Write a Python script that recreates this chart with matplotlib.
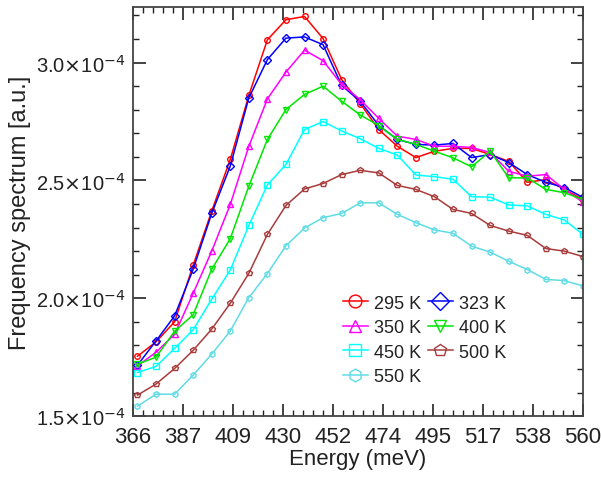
import matplotlib
matplotlib.use('Agg')
import matplotlib.pyplot as plt
from matplotlib.ticker import AutoMinorLocator
import numpy as np

plt.rcParams['font.family'] = ['Liberation Sans', 'DejaVu Sans']

# energies of the sampled points (meV)
energy = np.arange(368, 561, 8)

# frequency spectrum, in units of 1e-4 a.u.
s295 = [1.754, 1.815, 1.900, 2.140, 2.370, 2.589, 2.861, 3.097, 3.182, 3.196, 3.102, 2.928,
        2.826, 2.716, 2.645, 2.597, 2.624, 2.636, 2.636, 2.610, 2.581, 2.492, 2.504, 2.462, 2.419]
s323 = [1.716, 1.819, 1.925, 2.123, 2.360, 2.561, 2.850, 3.013, 3.104, 3.109, 3.076, 2.903,
        2.836, 2.733, 2.674, 2.653, 2.650, 2.657, 2.597, 2.610, 2.576, 2.525, 2.492, 2.470, 2.428]
s350 = [1.713, 1.771, 1.847, 2.021, 2.200, 2.398, 2.645, 2.846, 2.960, 3.053, 3.008, 2.907,
        2.843, 2.763, 2.688, 2.674, 2.645, 2.645, 2.640, 2.619, 2.539, 2.518, 2.525, 2.462, 2.407]
s400 = [1.720, 1.750, 1.860, 1.930, 2.123, 2.253, 2.476, 2.674, 2.801, 2.865, 2.900, 2.836,
        2.778, 2.733, 2.674, 2.653, 2.624, 2.596, 2.558, 2.624, 2.511, 2.511, 2.462, 2.448, 2.419]
s450 = [1.685, 1.711, 1.787, 1.866, 1.996, 2.120, 2.309, 2.481, 2.568, 2.716, 2.750, 2.710,
        2.677, 2.636, 2.608, 2.523, 2.516, 2.505, 2.431, 2.429, 2.396, 2.392, 2.356, 2.332, 2.271]
s500 = [1.589, 1.636, 1.702, 1.779, 1.869, 1.979, 2.106, 2.271, 2.394, 2.464, 2.487, 2.525,
        2.543, 2.532, 2.479, 2.462, 2.431, 2.377, 2.360, 2.309, 2.285, 2.267, 2.211, 2.200, 2.177]
s550 = [1.542, 1.593, 1.593, 1.674, 1.763, 1.861, 2.003, 2.105, 2.223, 2.298, 2.342, 2.360,
        2.405, 2.405, 2.356, 2.321, 2.290, 2.276, 2.221, 2.196, 2.157, 2.122, 2.080, 2.075, 2.052]

labels = ['295 K', '323 K', '350 K', '400 K', '450 K', '500 K', '550 K']
series = [s295, s323, s350, s400, s450, s500, s550]
colors = ['#ff0000', '#0000ff', '#ff00ff', '#00e600', '#00ffff', '#a83c3c', '#5fdce6']
markers = ['o', 'D', '^', 'v', 's', 'p', 'h']

xtick_labels = ['366', '387', '409', '430', '452', '474', '495', '517', '538', '560']
ytick_vals = [1.5, 2.0, 2.5, 3.0]

fig = plt.figure(figsize=(6.01, 4.85), dpi=100)
ax = fig.add_axes([0.221, 0.140, 0.749, 0.843])

lines = {}
for lab, s, c, m in zip(labels, series, colors, markers):
    ln, = ax.plot(energy, np.array(s) * 1e-4, color=c, marker=m, ms=4, mfc='none',
                  mew=1.0, lw=1.1, label=lab)
    lines[lab] = ln

ax.set_xlim(366, 560)
ax.set_ylim(1.5e-4, 3.235e-4)
ax.set_xticks(np.linspace(366, 560, 10))
ax.set_xticklabels(xtick_labels)
ax.set_yticks([v * 1e-4 for v in ytick_vals])
ax.set_yticklabels([r'%.1f$\times$10$^{-4}$' % v for v in ytick_vals])
ax.xaxis.set_minor_locator(AutoMinorLocator(5))
ax.yaxis.set_minor_locator(AutoMinorLocator(5))
ax.tick_params(which='both', direction='in', top=True, right=True, colors='#222222')
ax.tick_params(axis='x', which='major', pad=7, labelsize=16)
ax.tick_params(axis='y', which='major', pad=5, labelsize=14.5)
ax.tick_params(which='major', length=9, width=1.2)
ax.tick_params(which='minor', length=4, width=1.0)
for sp in ax.spines.values():
    sp.set_color('#444444')
    sp.set_linewidth(1.3)

ax.set_xlabel('Energy (meV)', fontsize=16, color='#222222', labelpad=1)
ax.set_ylabel('Frequency spectrum [a.u.]', fontsize=17, color='#222222', labelpad=4)

# legend order so that ncol=2 fills rows like the reference
order = ['295 K', '350 K', '450 K', '550 K', '323 K', '400 K', '500 K']
leg = ax.legend([lines[k] for k in order], order, ncol=2, frameon=False,
                loc='upper left', bbox_to_anchor=(0.45, 0.315), fontsize=13,
                markerscale=2.3, handlelength=1.4, handletextpad=0.35,
                columnspacing=0.35, labelspacing=0.42, borderaxespad=0)
for t in leg.get_texts():
    t.set_color('#222222')

fig.savefig('out.png', dpi=100)
